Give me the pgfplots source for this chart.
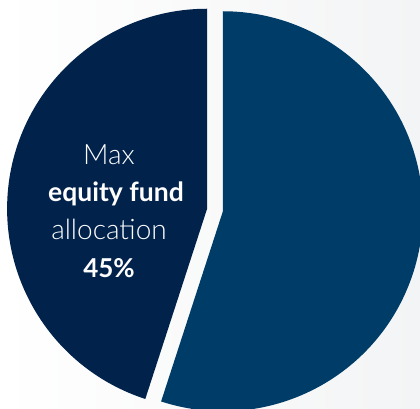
\documentclass[border=0pt]{standalone}
\usepackage{pgfplots}
\pgfplotsset{compat=1.18}
\usepackage{pgfplotstable}
\usepackage{fontspec}
\setmainfont{Lato}
\newfontfamily\lightfont{Lato Light}
\definecolor{darkslice}{HTML}{00224B}
\definecolor{lightslice}{HTML}{003C68}
\definecolor{bgright}{HTML}{F3F4F5}
\pgfplotstableread{
label share
equity 45
other 55
}\pietable
\begin{document}
\begin{tikzpicture}
\pgfplotstablegetelem{0}{share}\of\pietable \let\shareA\pgfplotsretval
\pgfplotstablegetelem{1}{share}\of\pietable \let\shareB\pgfplotsretval
\pgfmathsetmacro{\aStart}{90}
\pgfmathsetmacro{\aEnd}{90+3.6*\shareA}
\pgfmathsetmacro{\bEnd}{\aEnd+3.6*\shareB}
\pgfmathsetmacro{\aMid}{(\aStart+\aEnd)/2}
\pgfmathsetmacro{\bMid}{(\aEnd+\bEnd)/2}
\def\cx{215}\def\cy{199}\def\R{200}\def\ex{8}
\pgfmathsetmacro{\ax}{\cx+\ex*cos(\aMid)}
\pgfmathsetmacro{\ay}{\cy+\ex*sin(\aMid)}
\pgfmathsetmacro{\bx}{\cx+\ex*cos(\bMid)}
\pgfmathsetmacro{\by}{\cy+\ex*sin(\bMid)}
\begin{axis}[hide axis, x=1pt, y=1pt, xmin=0, xmax=420, ymin=0, ymax=409, scale only axis]
\begin{scope}
\clip (axis cs:0,0) rectangle (axis cs:420,409);
\fill[left color=white, right color=bgright] (axis cs:0,0) rectangle (axis cs:420,409);
\fill[darkslice] (axis cs:\ax,\ay) -- ++(\aStart:\R pt) arc[start angle=\aStart, end angle=\aEnd, radius=\R pt] -- cycle;
\fill[lightslice] (axis cs:\bx,\by) -- ++(\aEnd:\R pt) arc[start angle=\aEnd, end angle=\bEnd, radius=\R pt] -- cycle;
\end{scope}
\node[anchor=base, text=white, font=\lightfont\fontsize{28}{32}\selectfont, inner sep=0pt] at (axis cs:109,244) {Max};
\node[anchor=base, text=white, font=\bfseries\fontsize{26.5}{32}\selectfont, inner sep=0pt] at (axis cs:116,207) {equity fund};
\node[anchor=base, text=white, font=\lightfont\fontsize{28}{32}\selectfont, inner sep=0pt] at (axis cs:109,169) {allocation};
\node[anchor=base, text=white, font=\bfseries\fontsize{26}{32}\selectfont, inner sep=0pt] at (axis cs:109,131) {45\%};
\end{axis}
\pgfresetboundingbox
\path (current axis.south west) rectangle (current axis.north east);
\end{tikzpicture}
\end{document}
